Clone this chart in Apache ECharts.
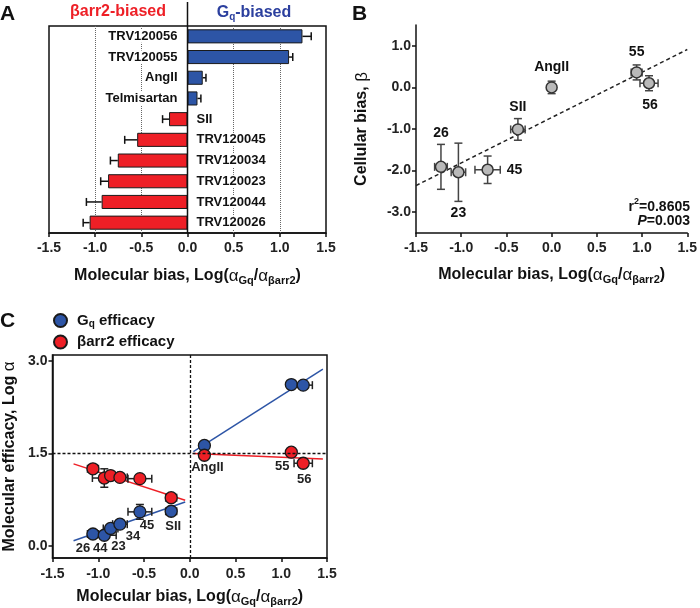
<!DOCTYPE html>
<html><head><meta charset="utf-8">
<script src="https://cdn.jsdelivr.net/npm/echarts@6/dist/echarts.min.js"></script>
<style>html,body{margin:0;padding:0;background:#fff}#c{width:700px;height:608px}</style>
</head><body><div id="c"></div>
<script>
// ---------- Panel A ----------
const catA = ['TRV120056','TRV120055','AngII','Telmisartan','SII','TRV120045','TRV120034','TRV120023','TRV120044','TRV120026'];
const biasA = [1.245, 1.10, 0.165, 0.108, -0.20, -0.545, -0.755, -0.86, -0.93, -1.06];
const errA = [0.095, 0.04, 0.035, 0.037, 0.07, 0.135, 0.08, 0.08, 0.165, 0.07];
const gridLinesA = [-1.0, -0.5, 0.5, 1.0];
const ticksBias = [-1.5, -1.0, -0.5, 0, 0.5, 1.0, 1.5];
// ---------- Panel B ----------
const labB = ['26','23','45','SII','AngII','55','56'];
const molB = [-1.224, -1.031, -0.708, -0.373, 0.0, 0.94, 1.077];
const molErrB = [0.07, 0.08, 0.14, 0.08, 0, 0.06, 0.10];
const cellB = [-1.91, -2.04, -1.98, -1.01, 0.0, 0.36, 0.10];
const cellErrB = [0.54, 0.70, 0.33, 0.26, 0.15, 0.18, 0.18];
const fitBX = [-1.5, 1.5];
const fitBY = [-2.36, 0.91];
const ticksCell = [-3, -2, -1, 0, 1];
// ---------- Panel C ----------
const labC = ['26','44','23','34','45','SII','AngII','55','56'];
const molC = [-1.058, -0.934, -0.865, -0.763, -0.545, -0.203, 0.16, 1.11, 1.24];
const molErrC = [0.06, 0.13, 0.08, 0.08, 0.13, 0.06, 0, 0.03, 0.10];
const gqC = [0.19, 0.17, 0.28, 0.35, 0.55, 0.56, 1.63, 2.62, 2.61];
const gqErrC = [0.03, 0, 0.04, 0.06, 0.12, 0.04, 0.04, 0.03, 0.03];
const arrC = [1.25, 1.10, 1.14, 1.11, 1.09, 0.78, 1.47, 1.52, 1.34];
const arrErrC = [0.06, 0.15, 0.06, 0.04, 0.06, 0.04, 0.03, 0.03, 0.06];
const fitGqLX = [-1.27, -0.05], fitGqLY = [0.08, 0.71];
const fitGqRX = [0.04, 1.455], fitGqRY = [1.53, 2.87];
const fitArrLX = [-1.27, -0.05], fitArrLY = [1.33, 0.74];
const fitArrRX = [0.04, 1.455], fitArrRY = [1.50, 1.41];
const ticksEff = [0, 1.5, 3.0];

// ---------- styles ----------
const FONT = '"Liberation Sans", Arial, Helvetica, sans-serif';
const BLUE = '#2d55a6', RED = '#ee1f26', INK = '#111';
const labOffB = [[0,-34],[0,41],[27,0],[0,-22],[0,-20],[0,-20],[1,22]];
const labAnchorC = ['gq','gq','gq','gq','gq','gq','arr','arr','arr'];
const labOffC = [[-10,14],[-4,13],[8,18],[13,12],[7,14],[2,15],[3,12],[-9,14],[1,16]];

const titleRich = {
  t:{fontFamily:FONT, fontWeight:'bold', fontSize:16, color:INK, lineHeight:20, verticalAlign:'middle'},
  g:{fontFamily:FONT, fontWeight:'normal', fontSize:17, color:INK, lineHeight:20, verticalAlign:'middle'},
  s:{fontFamily:FONT, fontWeight:'bold', fontSize:11, color:INK, lineHeight:10, verticalAlign:'bottom'}
};
const biasTitle = '{t|Molecular bias, Log(}{g|α}{s|Gq}{t|/}{g|α}{s|βarr2}{t|)}';

function biasXAxis(gi, gap, margin){
  return {type:'value', gridIndex:gi, min:-1.5, max:1.5, interval:0.5,
    axisLine:{show:true, onZero:false, lineStyle:{color:INK, width:1.5}},
    axisTick:{show:true, length:4, customValues:ticksBias, lineStyle:{color:INK, width:1.5}},
    axisLabel:{customValues:ticksBias, fontFamily:FONT, fontWeight:'bold', fontSize:14, color:'#222', margin:margin, formatter:v=>v.toFixed(1)},
    splitLine:{show:false},
    name:biasTitle, nameLocation:'middle', nameGap:gap, nameTextStyle:{rich:titleRich}
  };
}
function valYAxis(gi, min, max, ticks, name, gap){
  return {type:'value', gridIndex:gi, min:min, max:max,
    axisLine:{show:true, onZero:false, lineStyle:{color:INK, width:1.5}},
    axisTick:{show:true, length:4, customValues:ticks, lineStyle:{color:INK, width:1.5}},
    axisLabel:{customValues:ticks, fontFamily:FONT, fontWeight:'bold', fontSize:14, color:'#222', margin:5, formatter:v=>v.toFixed(1)},
    splitLine:{show:false},
    name:name, nameLocation:'middle', nameGap:gap, nameRotate:90, nameTextStyle:{rich:titleRich}
  };
}
function capLine(x1,y1,x2,y2,color){
  return {type:'line', shape:{x1:x1,y1:y1,x2:x2,y2:y2}, style:{stroke:color, lineWidth:1.5}};
}
function xyErrSeries(xi, xs, xe, ys, ye, color, cap){
  return {type:'custom', xAxisIndex:xi, yAxisIndex:xi, z:2, silent:true,
    data: xs.map((x,i)=>[x - xe[i], x + xe[i], ys[i] - ye[i], ys[i] + ye[i]]),
    encode:{x:[0,1], y:[2,3]},
    renderItem:(params, api)=>{
      const i = params.dataIndex, ch = [];
      const x = xs[i], y = ys[i];
      if (xe[i] > 0){
        const a = api.coord([x - xe[i], y]), b = api.coord([x + xe[i], y]);
        ch.push(capLine(a[0],a[1],b[0],b[1],color));
        ch.push(capLine(a[0],a[1]-cap,a[0],a[1]+cap,color));
        ch.push(capLine(b[0],b[1]-cap,b[0],b[1]+cap,color));
      }
      if (ye[i] > 0){
        const a = api.coord([x, y - ye[i]]), b = api.coord([x, y + ye[i]]);
        ch.push(capLine(a[0],a[1],b[0],b[1],color));
        ch.push(capLine(a[0]-cap,a[1],a[0]+cap,a[1],color));
        ch.push(capLine(b[0]-cap,b[1],b[0]+cap,b[1],color));
      }
      return {type:'group', children:ch};
    }
  };
}
function fitLine(gi, xs, ys, color, dashed){
  return {type:'line', xAxisIndex:gi, yAxisIndex:gi, symbol:'none', silent:true, z:1,
    data: xs.map((x,i)=>[x, ys[i]]),
    lineStyle:{color:color, width:1.5, type: dashed ? [4,3] : 'solid'}};
}

const series = [];
// A bars
series.push({type:'bar', xAxisIndex:0, yAxisIndex:0, barWidth:'68%', z:2,
  data: biasA.map(v=>({value:v, itemStyle:{color: v >= 0 ? BLUE : RED}})),
  itemStyle:{borderColor:'#1a1a1a', borderWidth:1},
  markLine:{silent:true, symbol:'none', label:{show:false}, z:1,
    lineStyle:{type:'dotted', color:'#666', width:1},
    data: gridLinesA.map(v=>({xAxis:v}))}
});
// A error bars (one sided)
series.push({type:'custom', xAxisIndex:0, yAxisIndex:0, z:3, silent:true,
  data: biasA.map((v,i)=>[v, v + Math.sign(v)*errA[i], i]),
  encode:{x:[0,1], y:2},
  renderItem:(params, api)=>{
    const i = params.dataIndex, v = biasA[i];
    const p0 = api.coord([v, i]), p1 = api.coord([v + Math.sign(v)*errA[i], i]);
    return {type:'group', children:[
      capLine(p0[0],p0[1],p1[0],p1[1],INK),
      capLine(p1[0],p1[1]-4,p1[0],p1[1]+4,INK)]};
  }
});
// A zero line extending above box
series.push({type:'custom', xAxisIndex:0, yAxisIndex:0, z:6, silent:true,
  data:[[0,0]], encode:{x:0, y:1},
  renderItem:(params, api)=>{
    const t = api.coord([0,0]), b = api.coord([0, catA.length-1]);
    const band = api.size([0,1])[1];
    return {type:'line', shape:{x1:t[0], y1:t[1]-band/2-24, x2:t[0], y2:b[1]+band/2}, style:{stroke:INK, lineWidth:1.5}};
  }
});
// A category labels
series.push({type:'custom', xAxisIndex:0, yAxisIndex:0, z:5, silent:true,
  data: biasA.map((v,i)=>[0, i]), encode:{x:0, y:1},
  renderItem:(params, api)=>{
    const i = params.dataIndex, pos = biasA[i] >= 0;
    const p = api.coord([0, i]);
    return {type:'text', x: p[0] + (pos ? -9 : 8), y: p[1],
      style:{text:catA[i], align: pos ? 'right' : 'left', verticalAlign:'middle',
        fill:INK, font:'bold 13px ' + FONT, backgroundColor:'#fff', padding:[0,1]}};
  }
});

// B
series.push(xyErrSeries(1, molB, molErrB, cellB, cellErrB, '#444', 4));
series.push(fitLine(1, fitBX, fitBY, '#222', true));
series.push({type:'scatter', xAxisIndex:1, yAxisIndex:1, z:3, symbolSize:11,
  data: molB.map((x,i)=>[x, cellB[i]]),
  itemStyle:{color:'#b9b9b9', borderColor:'#333', borderWidth:1.5, opacity:1}});
series.push({type:'custom', xAxisIndex:1, yAxisIndex:1, z:4, silent:true,
  data: molB.map((x,i)=>[x, cellB[i]]), encode:{x:0, y:1},
  renderItem:(params, api)=>{
    const i = params.dataIndex, p = api.coord([molB[i], cellB[i]]);
    return {type:'text', x:p[0]+labOffB[i][0], y:p[1]+labOffB[i][1],
      style:{text:labB[i], align:'center', verticalAlign:'middle', fill:INK, font:'bold 14px ' + FONT}};
  }
});

// C
const cRef = fitLine(2, fitGqLX, fitGqLY, BLUE, false);
cRef.markLine = {silent:true, symbol:'none', label:{show:false},
  lineStyle:{type:[3,2], color:INK, width:1.3},
  data:[{xAxis:0},{yAxis:1.5}]};
series.push(cRef);
series.push(fitLine(2, fitGqRX, fitGqRY, BLUE, false));
series.push(fitLine(2, fitArrLX, fitArrLY, RED, false));
series.push(fitLine(2, fitArrRX, fitArrRY, RED, false));
series.push(xyErrSeries(2, molC, molErrC, gqC, gqErrC, '#222', 4));
series.push(xyErrSeries(2, molC, molErrC, arrC, arrErrC, '#222', 4));
series.push({type:'scatter', name:'Gq efficacy', xAxisIndex:2, yAxisIndex:2, z:3, symbolSize:12,
  data: molC.map((x,i)=>[x, gqC[i]]),
  itemStyle:{color:BLUE, borderColor:'#1a1a1a', borderWidth:1.3, opacity:1}});
series.push({type:'scatter', name:'βarr2 efficacy', xAxisIndex:2, yAxisIndex:2, z:3, symbolSize:12,
  data: molC.map((x,i)=>[x, arrC[i]]),
  itemStyle:{color:RED, borderColor:'#1a1a1a', borderWidth:1.3, opacity:1}});
series.push({type:'custom', xAxisIndex:2, yAxisIndex:2, z:4, silent:true,
  data: molC.map((x,i)=>[x, gqC[i]]), encode:{x:0, y:1},
  renderItem:(params, api)=>{
    const i = params.dataIndex;
    const y = labAnchorC[i] === 'gq' ? gqC[i] : arrC[i];
    const p = api.coord([molC[i], y]);
    return {type:'text', x:p[0]+labOffC[i][0], y:p[1]+labOffC[i][1],
      style:{text:labC[i], align:'center', verticalAlign:'middle', fill:'#222', font:'bold 13px ' + FONT}};
  }
});

const option = {
  animation:false,
  backgroundColor:'#fff',
  grid:[
    {left:49, top:26, width:277, height:207, show:true, borderColor:INK, borderWidth:1.5},
    {left:416, top:25, width:275, height:208},
    {left:52, top:355, width:275, height:203, show:true, borderColor:INK, borderWidth:1.5}
  ],
  xAxis:[biasXAxis(0, 33, 8), biasXAxis(1, 32, 8), biasXAxis(2, 29, 9)],
  yAxis:[
    {type:'category', gridIndex:0, data:catA, inverse:true, show:false},
    valYAxis(1, -3.5, 1.5, ticksCell, '{t|Cellular bias, }{g|β}', 44),
    valYAxis(2, -0.2, 3.1, ticksEff, '{t|Molecular efficacy, Log }{g|α}', 33)
  ],
  legend:{data:['Gq efficacy','βarr2 efficacy'], orient:'vertical', left:48, top:308,
    icon:'circle', itemWidth:13, itemHeight:13, itemGap:5, selectedMode:false,
    formatter: n => n === 'Gq efficacy' ? '{a|G}{s|q}{a| efficacy}' : '{a|βarr2 efficacy}',
    textStyle:{padding:[0,0,0,5], rich:{
      a:{fontFamily:FONT, fontWeight:'bold', fontSize:15, color:INK, lineHeight:18, verticalAlign:'middle'},
      s:{fontFamily:FONT, fontWeight:'bold', fontSize:10, color:INK, lineHeight:8, verticalAlign:'bottom'}}}
  },
  graphic:[
    {type:'text', x:0, y:4, style:{text:'A', font:'bold 21px ' + FONT, fill:INK}},
    {type:'text', x:352, y:4, style:{text:'B', font:'bold 21px ' + FONT, fill:INK}},
    {type:'text', x:0, y:311, style:{text:'C', font:'bold 21px ' + FONT, fill:INK}},
    {type:'text', x:118, y:4, style:{text:'βarr2-biased', align:'center', font:'bold 16px ' + FONT, fill:RED}},
    {type:'text', x:254, y:3, style:{text:'{b|G}{s|q}{b|-biased}', align:'center',
      rich:{b:{font:'bold 16px ' + FONT, fill:'#2b3f9e', color:'#2b3f9e', lineHeight:19, verticalAlign:'middle'},
            s:{font:'bold 10px ' + FONT, fill:'#2b3f9e', color:'#2b3f9e', lineHeight:8, verticalAlign:'bottom'}}}},
    {type:'text', x:690, y:197, style:{text:'{n|r}{p|2}{n|=0.8605}', align:'right',
      rich:{n:{font:'bold 14px ' + FONT, fill:INK, color:INK, lineHeight:17, verticalAlign:'bottom'},
            p:{font:'bold 9px ' + FONT, fill:INK, color:INK, lineHeight:17, verticalAlign:'top'}}}},
    {type:'text', x:690, y:214, style:{text:'{i|P}{n|=0.003}', align:'right',
      rich:{i:{font:'italic bold 14px ' + FONT, fill:INK, color:INK},
            n:{font:'bold 14px ' + FONT, fill:INK, color:INK}}}}
  ],
  series:series
};
const chart = echarts.init(document.getElementById('c'));
chart.setOption(option);
</script>
</body></html>
